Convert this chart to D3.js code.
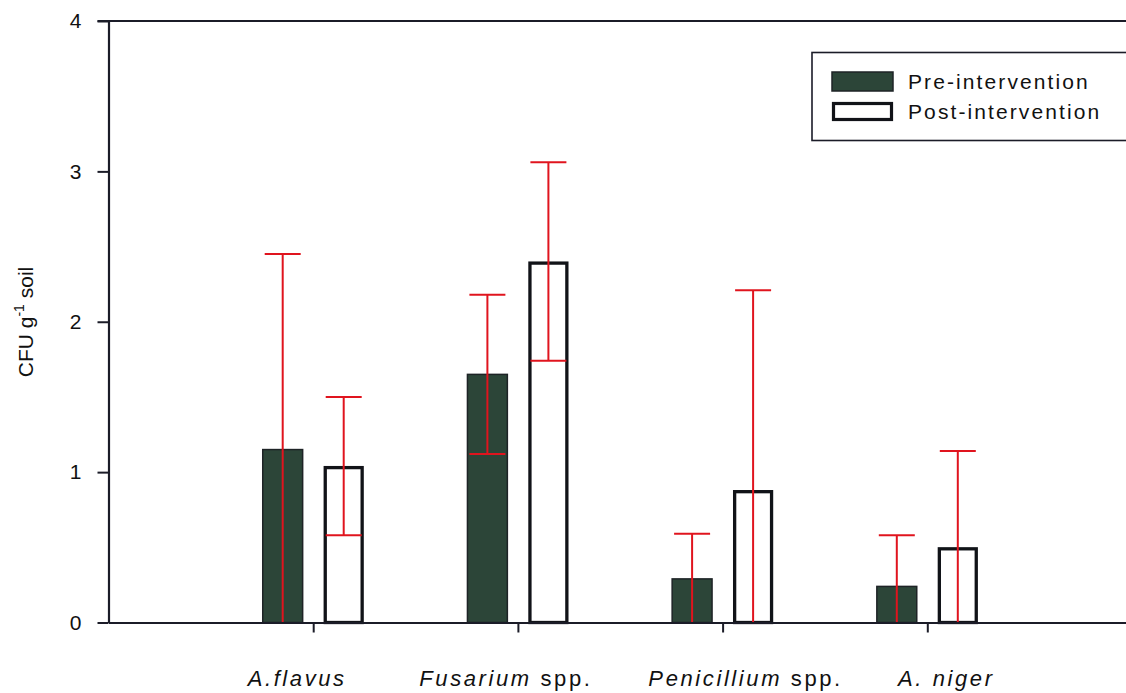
<!DOCTYPE html>
<html>
<head>
<meta charset="utf-8">
<script src="https://cdn.jsdelivr.net/npm/d3@7"></script>
<style>
  body { margin: 0; background: #fff; }
  svg { display: block; font-family: Arial, "Liberation Sans", Helvetica, sans-serif; }
</style>
</head>
<body>
<div id="chart"></div>
<script>
// data
const categories = ["A.flavus", "Fusarium spp.", "Penicillium spp.", "A. niger"];
const preMean  = [1.15, 1.65, 0.29, 0.24];
const preSD    = [1.30, 0.53, 0.30, 0.34];
const postMean = [1.04, 2.40, 0.88, 0.50];
const postSD   = [0.46, 0.66, 1.33, 0.64];
const yTicks = [0, 1, 2, 3, 4];
const seriesNames = ["Pre-intervention", "Post-intervention"];

const W = 1126, H = 693;
const axisColor = "#1b1c28";
const red = "#e0141e";
const preFill = "#2c4538";

const svg = d3.select("#chart").append("svg")
  .attr("width", W)
  .attr("height", H);

// x: positions 1..4 on a 0..5 linear scale (plot runs off the right edge)
const x = d3.scaleLinear().domain([0, 5]).range([108.5, 108.5 + 5 * 204.7]);
const y = d3.scaleLinear().domain([0, 4]).range([622.5, 21]);

const barW = x(0.195) - x(0);
const off = x(0.149) - x(0);

// frame top line
svg.append("line")
  .attr("x1", x(0) - 11).attr("x2", x(5))
  .attr("y1", y(4)).attr("y2", y(4))
  .attr("stroke", axisColor).attr("stroke-width", 2);

// bars
const groups = categories.map((c, i) => ({
  i: i,
  pre: preMean[i], preSD: preSD[i],
  post: postMean[i], postSD: postSD[i]
}));

svg.append("g").selectAll("rect")
  .data(groups)
  .join("rect")
    .attr("x", d => x(d.i + 1) - off - barW / 2)
    .attr("y", d => y(d.pre))
    .attr("width", barW)
    .attr("height", d => y(0) - y(d.pre))
    .attr("fill", preFill)
    .attr("stroke", "#1e2326")
    .attr("stroke-width", 1.5);

svg.append("g").selectAll("rect")
  .data(groups)
  .join("rect")
    .attr("x", d => x(d.i + 1) + off - barW / 2 + 1.5)
    .attr("y", d => y(d.post) + 1.5)
    .attr("width", barW - 3)
    .attr("height", d => y(0) - y(d.post) - 1.5)
    .attr("fill", "#fff")
    .attr("stroke", "#111318")
    .attr("stroke-width", 3.3);

// error bars (mean +/- SD, clipped at 0)
const errs = [];
groups.forEach(d => {
  errs.push({cx: x(d.i + 1) - off, m: d.pre, s: d.preSD});
  errs.push({cx: x(d.i + 1) + off, m: d.post, s: d.postSD});
});
const capHalf = 18;
const eg = svg.append("g").attr("stroke", red).attr("stroke-width", 2);
errs.forEach(e => {
  const hi = e.m + e.s, lo = Math.max(0, e.m - e.s);
  eg.append("line").attr("x1", e.cx).attr("x2", e.cx).attr("y1", y(hi)).attr("y2", y(lo));
  eg.append("line").attr("x1", e.cx - capHalf).attr("x2", e.cx + capHalf).attr("y1", y(hi)).attr("y2", y(hi));
  if (lo > 0) {
    eg.append("line").attr("x1", e.cx - capHalf).attr("x2", e.cx + capHalf).attr("y1", y(lo)).attr("y2", y(lo));
  }
});

// y axis
const yAxis = svg.append("g")
  .attr("transform", `translate(${x(0)},0)`)
  .call(d3.axisLeft(y).tickValues(yTicks).tickSize(11).tickSizeOuter(0).tickPadding(16).tickFormat(d3.format("d")));
yAxis.select(".domain").attr("stroke", axisColor).attr("stroke-width", 2.2);
yAxis.selectAll(".tick line").attr("stroke", axisColor).attr("stroke-width", 2);
yAxis.selectAll(".tick text")
  .attr("fill", "#111")
  .style("font-size", "21px")
  .style("font-family", "Arial, 'Liberation Sans', sans-serif");

// x axis
const xAxis = svg.append("g")
  .attr("transform", `translate(0,${y(0)})`)
  .call(d3.axisBottom(x).tickValues([1, 2, 3, 4]).tickSize(10).tickSizeOuter(0).tickFormat(""));
xAxis.select(".domain").attr("stroke", axisColor).attr("stroke-width", 2);
xAxis.selectAll(".tick line").attr("stroke", axisColor).attr("stroke-width", 2);

// category labels: genus italic, "spp." upright
const labelDx = [-16, -12, 23, 19];
const lab = svg.append("g").selectAll("text")
  .data(categories)
  .join("text")
    .attr("x", (d, i) => x(i + 1) + labelDx[i])
    .attr("y", 686)
    .attr("text-anchor", "middle")
    .style("font-size", "22px")
    .style("letter-spacing", "2.6px")
    .attr("fill", "#111");
lab.each(function(d) {
  const t = d3.select(this);
  const k = d.indexOf(" spp.");
  const ital = k >= 0 ? d.slice(0, k) : d;
  t.append("tspan").style("font-style", "italic").text(ital);
  if (k >= 0) t.append("tspan").text(d.slice(k));
});

// y axis title
const yt = svg.append("text")
  .attr("transform", "translate(33,322) rotate(-90)")
  .attr("text-anchor", "middle")
  .style("font-size", "21px")
  .attr("fill", "#111");
yt.append("tspan").text("CFU g");
yt.append("tspan").attr("dy", -9).style("font-size", "14px").text("-1");
yt.append("tspan").attr("dy", 9).text(" soil");

// legend
const lg = svg.append("g");
lg.append("rect")
  .attr("x", 812).attr("y", 52.5)
  .attr("width", 340).attr("height", 88)
  .attr("fill", "#fff")
  .attr("stroke", axisColor).attr("stroke-width", 1.6);
seriesNames.forEach((name, i) => {
  const yy = 72 + i * 30;
  lg.append("rect")
    .attr("x", i === 0 ? 832 : 833.5).attr("y", i === 0 ? yy : yy + 1.5)
    .attr("width", i === 0 ? 61 : 58).attr("height", i === 0 ? 19 : 16)
    .attr("fill", i === 0 ? preFill : "#fff")
    .attr("stroke", i === 0 ? "#1e2326" : "#111318")
    .attr("stroke-width", i === 0 ? 1.5 : 3.2);
  lg.append("text")
    .attr("x", 908).attr("y", yy + 17)
    .style("font-size", "21px")
    .style("letter-spacing", "2.1px")
    .attr("fill", "#111")
    .text(name);
});
</script>
</body>
</html>
